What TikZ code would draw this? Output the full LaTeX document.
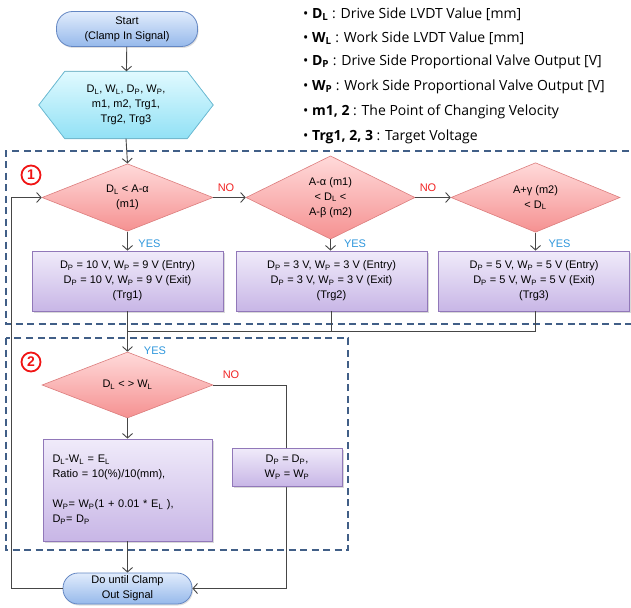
\documentclass[tikz,border=0pt]{standalone}
\usepackage{fontspec}
\setmainfont{Liberation Sans}
\newfontfamily\legfont{Open Sans}
\usetikzlibrary{arrows.meta,shapes.geometric,shadows,calc}
\definecolor{lineg}{RGB}{70,70,70}
\definecolor{dashb}{RGB}{65,95,135}
\definecolor{termtop}{RGB}{225,236,252}
\definecolor{termbot}{RGB}{150,185,235}
\definecolor{termdraw}{RGB}{100,135,195}
\definecolor{hextop}{RGB}{225,250,255}
\definecolor{hexbot}{RGB}{145,225,245}
\definecolor{hexdraw}{RGB}{110,190,215}
\definecolor{dtop}{RGB}{255,218,218}
\definecolor{dbot}{RGB}{245,145,145}
\definecolor{ddraw}{RGB}{220,125,125}
\definecolor{btop}{RGB}{240,235,250}
\definecolor{bbot}{RGB}{200,182,230}
\definecolor{bdraw}{RGB}{145,120,185}
\definecolor{yesc}{RGB}{45,150,220}
\definecolor{noc}{RGB}{240,35,35}
\definecolor{circred}{RGB}{240,20,20}
\newcommand{\sbs}[1]{\textsubscript{#1}}
\tikzset{
  every node/.style={font=\fontsize{11}{15}\selectfont},
  conn/.style={draw=lineg, line width=0.9pt},
  arr/.style={conn, -{Straight Barb[length=4.5pt,width=10pt]}},
  term/.style={draw=termdraw, line width=0.8pt, top color=termtop, bottom color=termbot,
    rounded corners=16pt, align=center, inner sep=0pt,
    drop shadow={shadow xshift=1pt, shadow yshift=-1.5pt, opacity=0.25}},
  dec/.style={diamond, draw=ddraw, line width=0.6pt, top color=dtop, bottom color=dbot,
    align=center, inner sep=0pt, minimum width=171pt, minimum height=67pt},
  proc/.style={rectangle, draw=bdraw, line width=0.8pt, top color=btop, bottom color=bbot,
    align=center, inner sep=0pt,
    drop shadow={shadow xshift=1.5pt, shadow yshift=-1.5pt, opacity=0.3}},
  yeslab/.style={text=yesc},
  nolab/.style={text=noc},
  dashbox/.style={draw=dashb, line width=1.4pt, dash pattern=on 7pt off 4.5pt},
  circnum/.style={circle, draw=circred, line width=1.8pt, text=circred, inner sep=0pt,
    minimum size=19pt, font=\bfseries\fontsize{14}{14}\selectfont},
  legend/.style={anchor=west, inner sep=0pt, font=\legfont\fontsize{14}{16}\selectfont}
}
\begin{document}
\begin{tikzpicture}[x=1pt,y=-1pt]
\useasboundingbox (0,0) rectangle (631,607);

% dashed regions
\draw[dashbox] (640,151) -- (6,151) -- (6,324) -- (640,324);
\draw[dashbox] (6,338) rectangle (348,550);
\node[circnum] (c1) at (31,175) {1};
\node[circnum] (c2) at (31,362) {2};

% legend
\node[legend] (l1) at (303,14) {\textbullet\ \textbf{D\sbs{L}} : Drive Side LVDT Value [mm]};
\node[legend] (l2) at (303,38) {\textbullet\ \textbf{W\sbs{L}} : Work Side LVDT Value [mm]};
\node[legend] (l3) at (303,62) {\textbullet\ \textbf{D\sbs{P}} : Drive Side Proportional Valve Output [V]};
\node[legend] (l4) at (303,87) {\textbullet\ \textbf{W\sbs{P}} : Work Side Proportional Valve Output [V]};
\node[legend] (l5) at (303,112) {\textbullet\ \textbf{m1, 2} : The Point of Changing Velocity};
\node[legend] (l6) at (303,137) {\textbullet\ \textbf{Trg1, 2, 3} : Target Voltage};

% start
\node[term, minimum width=141pt, minimum height=35pt] (start) at (127,29) {Start\\(Clamp In Signal)};

% hexagon input
\node[minimum width=174pt, minimum height=67pt, inner sep=0pt] (hex) at (126,105) {};
\fill[draw=hexdraw, line width=0.8pt, top color=hextop, bottom color=hexbot]
  (hex.west) -- ($(hex.north west)+(26,0)$) -- ($(hex.north east)+(-26,0)$) -- (hex.east)
  -- ($(hex.south east)+(-26,0)$) -- ($(hex.south west)+(26,0)$) -- cycle;
\node[align=center] (hext) at (hex.center) {D\sbs{L}, W\sbs{L}, D\sbs{P}, W\sbs{P},\\m1, m2, Trg1,\\Trg2, Trg3};

% decisions row
\node[dec] (d1) at (127.5,197.5) {D\sbs{L} < A-α\\(m1)};
\node[dec, minimum width=169pt] (d2) at (330.5,197.5) {A-α (m1)\\< D\sbs{L} <\\A-β (m2)};
\node[dec, minimum width=169pt] (d3) at (535.5,197.5) {A+γ (m2)\\< D\sbs{L}};

% process row
\node[proc, minimum width=191pt, minimum height=60pt] (b1) at (127.5,281)
  {D\sbs{P} = 10 V, W\sbs{P} = 9 V (Entry)\\D\sbs{P} = 10 V, W\sbs{P} = 9 V (Exit)\\(Trg1)};
\node[proc, minimum width=191pt, minimum height=60pt] (b2) at (331.5,281)
  {D\sbs{P} = 3 V, W\sbs{P} = 3 V (Entry)\\D\sbs{P} = 3 V, W\sbs{P} = 3 V (Exit)\\(Trg2)};
\node[proc, minimum width=191pt, minimum height=60pt] (b3) at (534,281)
  {D\sbs{P} = 5 V, W\sbs{P} = 5 V (Entry)\\D\sbs{P} = 5 V, W\sbs{P} = 5 V (Exit)\\(Trg3)};

% second block
\node[dec, minimum height=66pt] (d4) at (127.5,385) {D\sbs{L} < > W\sbs{L}};
\node[proc, minimum width=169pt, minimum height=102pt, align=left, text width=150pt] (b4) at (127.5,490)
  {D\sbs{L}-W\sbs{L} = E\sbs{L}\\Ratio = 10(\%)/10(mm),\\[15pt]W\sbs{P}= W\sbs{P}(1 + 0.01 * E\sbs{L} ),\\D\sbs{P}= D\sbs{P}};
\node[term, minimum width=129pt, minimum height=31pt, rounded corners=15pt] (end) at (127.5,588.5) {Do until Clamp\\Out Signal};

% connectors
\draw[arr] (start) -- (hex);
\draw[arr] (hex.south) -- (d1.north);
\draw[arr] (d1.east) -- (d2.west);
\draw[arr] (d2.east) -- (d3.west);
\draw[arr] (d1.south) -- (b1.north);
\draw[arr] (d2.south) -- (b2.north -| d2.south);
\draw[arr] (d3.south) -- (b3.north -| d3.south);
\coordinate (j1) at (127.5,331);
\draw[conn] (b2.south -| 331,0) |- (j1);
\draw[conn] (b3.south -| 535,0) |- (j1);
\draw[arr] (b1.south) -- (d4.north);
\draw[arr] (d4.south) -- (b4.north);
\draw[arr] (b4.south) -- (end.north);
\coordinate (nr) at (286,588.5);
\draw[arr] (d4.east) -| (nr) -- (end.east);
\coordinate (lp) at (11,588.5);
\draw[arr] (end.west) -- (lp) |- (d1.west);

\node[proc, minimum width=110pt, minimum height=38pt] (b5) at (287,467) {D\sbs{P} = D\sbs{P},\\W\sbs{P} = W\sbs{P}};

% branch labels
\node[nolab] (no1) at (226,188) {NO};
\node[nolab] (no2) at (428,188) {NO};
\node[nolab] (no3) at (231,375) {NO};
\node[yeslab] (y1) at (149.5,244) {YES};
\node[yeslab] (y2) at (355,244) {YES};
\node[yeslab] (y3) at (559.5,244) {YES};
\node[yeslab] (y4) at (155,351) {YES};
\end{tikzpicture}
\end{document}
